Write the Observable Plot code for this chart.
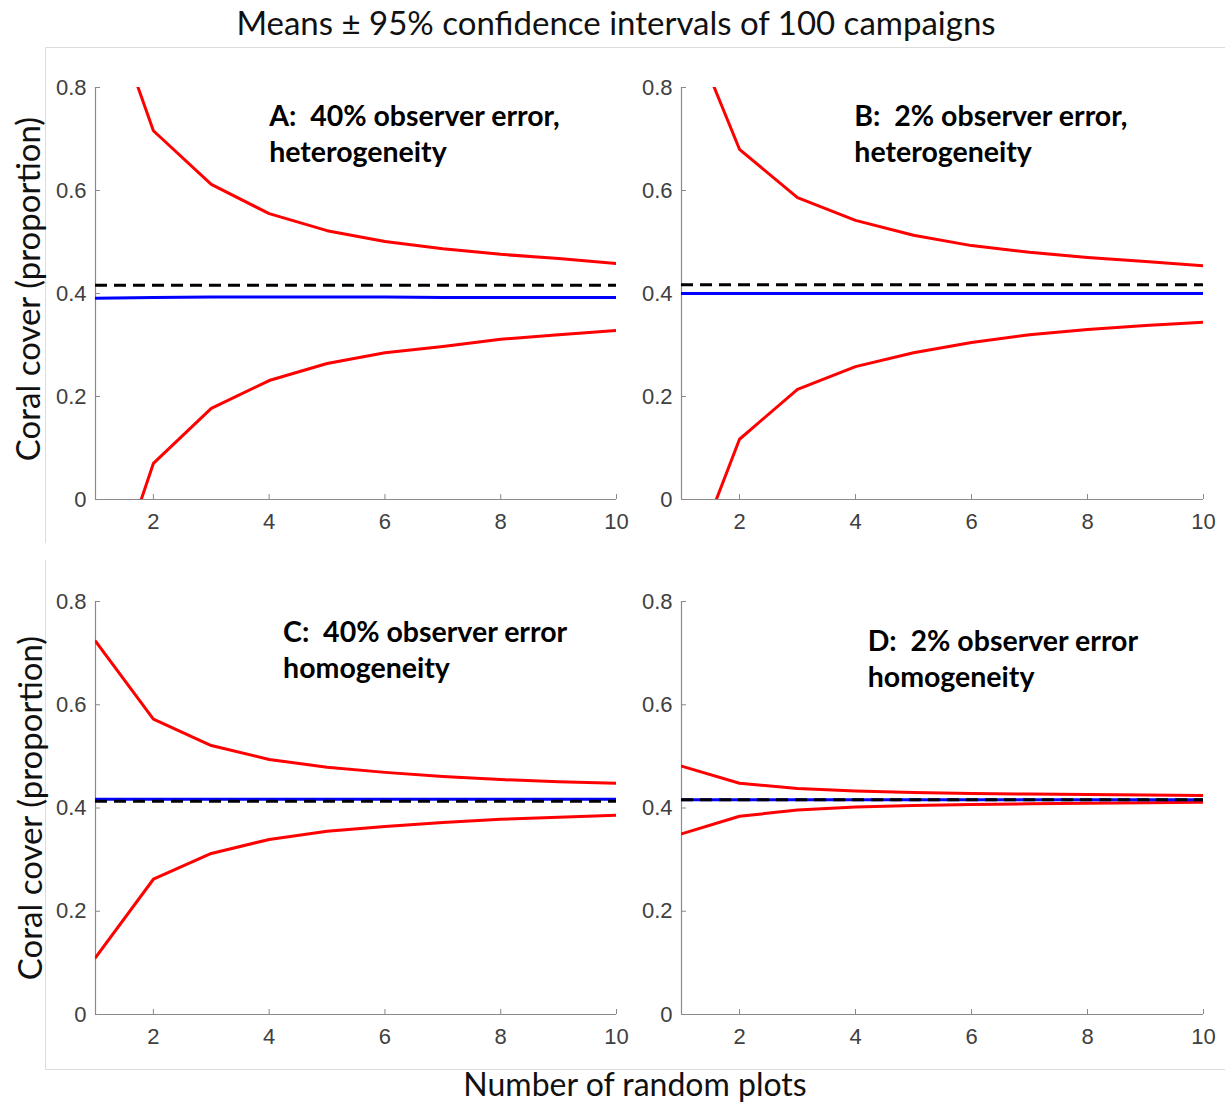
<!DOCTYPE html>
<html>
<head>
<meta charset="utf-8">
<script src="https://cdn.jsdelivr.net/npm/d3@7"></script>
<script src="https://cdn.jsdelivr.net/npm/@observablehq/plot@0.6"></script>
<style>
  html, body { margin: 0; padding: 0; background: #fff; }
  #root { position: relative; width: 1225px; height: 1103px; overflow: hidden; font-family: Lato, "Open Sans", sans-serif; }
  .abs { position: absolute; }
  .title { font-size: 33px; color: #111; white-space: nowrap; line-height: 1.1; }
  .ylab { font-size: 33px; color: #111; white-space: nowrap; transform: translate(-50%, -50%) rotate(-90deg); }
  .border { position: absolute; background: #dcdcdc; }
</style>
</head>
<body>
<div id="root"></div>
<script>
// ---- data ----
const plotsN = [1, 2, 3, 4, 5, 6, 7, 8, 9, 10];
const xTicks = [2, 4, 6, 8, 10];
const yTicks = [0, 0.2, 0.4, 0.6, 0.8];

const labelA = "A:\u00a0 40% observer error,\nheterogeneity";
const upperA = [1.034, 0.716, 0.612, 0.555, 0.522, 0.501, 0.487, 0.476, 0.468, 0.458];
const lowerA = [-0.263, 0.070, 0.177, 0.231, 0.264, 0.285, 0.297, 0.311, 0.320, 0.328];
const meanA  = [0.391, 0.392, 0.393, 0.393, 0.393, 0.393, 0.392, 0.392, 0.392, 0.392];
const trueA  = 0.416;

const labelB = "B:\u00a0 2% observer error,\nheterogeneity";
const upperB = [0.956, 0.680, 0.586, 0.542, 0.513, 0.493, 0.480, 0.470, 0.462, 0.454];
const lowerB = [-0.176, 0.117, 0.214, 0.258, 0.285, 0.305, 0.320, 0.330, 0.338, 0.344];
const meanB  = [0.400, 0.400, 0.400, 0.400, 0.400, 0.400, 0.400, 0.400, 0.400, 0.400];
const trueB  = 0.417;

const labelC = "C:\u00a0 40% observer error\nhomogeneity";
const upperC = [0.723, 0.572, 0.521, 0.494, 0.479, 0.469, 0.461, 0.455, 0.451, 0.448];
const lowerC = [0.110, 0.262, 0.312, 0.339, 0.355, 0.364, 0.372, 0.378, 0.382, 0.386];
const meanC  = [0.417, 0.417, 0.417, 0.417, 0.417, 0.417, 0.417, 0.417, 0.417, 0.417];
const trueC  = 0.413;

const labelD = "D:\u00a0 2% observer error\nhomogeneity";
const upperD = [0.481, 0.448, 0.438, 0.433, 0.430, 0.428, 0.427, 0.426, 0.425, 0.424];
const lowerD = [0.350, 0.384, 0.396, 0.402, 0.405, 0.407, 0.408, 0.409, 0.410, 0.411];
const meanD  = [0.416, 0.416, 0.416, 0.416, 0.416, 0.416, 0.416, 0.416, 0.416, 0.416];
const trueD  = 0.416;

const titleText = "Means \u00b1 95% confidence intervals of 100 campaigns";
const xLabelText = "Number of random plots";
const yLabelText = "Coral cover (proportion)";

// ---- layout ----
const root = document.getElementById("root");

function addDiv(cls, text, css) {
  const d = document.createElement("div");
  d.className = cls;
  if (text) d.textContent = text;
  Object.assign(d.style, css);
  root.appendChild(d);
  return d;
}

// faint panel borders
addDiv("border", "", {left: "45px", top: "47px", width: "1180px", height: "1px"});
addDiv("border", "", {left: "45px", top: "47px", width: "1px", height: "496px"});
addDiv("border", "", {left: "45px", top: "560px", width: "1px", height: "509px"});
addDiv("border", "", {left: "45px", top: "1069px", width: "1180px", height: "1px"});

function panel(upper, lower, mean, truth, label, labelX, labelY, left, top, mr, mb) {
  const rows = plotsN.map((n, i) => ({n, upper: upper[i], lower: lower[i], mean: mean[i]}));
  const chart = Plot.plot({
    width: 600,
    height: 500,
    marginLeft: 50,
    marginRight: mr,
    marginTop: 39,
    marginBottom: mb,
    style: {fontFamily: "'Liberation Sans', Arial, sans-serif", fontSize: "22px", color: "#404040", background: "transparent", overflow: "visible"},
    x: {domain: [1, 10]},
    y: {domain: [0, 0.8]},
    marks: [
      Plot.ruleX([1], {stroke: "#8a8a8a", strokeWidth: 1.2}),
      Plot.ruleY([0], {stroke: "#8a8a8a", strokeWidth: 1.2}),
      Plot.axisX({ticks: xTicks, tickSize: -5, tickPadding: 19, label: null, stroke: "#8a8a8a", fill: "#404040", tickFormat: d3.format("d")}),
      Plot.axisY({ticks: yTicks, tickSize: -5, tickPadding: 14, label: null, stroke: "#8a8a8a", fill: "#404040", tickFormat: d => d === 0 ? "0" : d3.format(".1f")(d)}),
      Plot.line(rows, {x: "n", y: "upper", stroke: "#ff0000", strokeWidth: 3, clip: true}),
      Plot.line(rows, {x: "n", y: "lower", stroke: "#ff0000", strokeWidth: 3, clip: true}),
      Plot.line(rows, {x: "n", y: "mean", stroke: "#0000ff", strokeWidth: 3, clip: true}),
      Plot.ruleY([truth], {stroke: "#000", strokeWidth: 3, strokeDasharray: "12,7"}),
      Plot.text([label], {x: labelX, y: labelY, text: d => d, textAnchor: "start", lineAnchor: "middle", lineHeight: 1.26,
        fontFamily: "Lato, 'Open Sans', sans-serif", fontWeight: "bold", fontSize: 28.5, fill: "#000"})
    ]
  });
  chart.style.position = "absolute";
  chart.style.left = left + "px";
  chart.style.top = top + "px";
  root.appendChild(chart);
}

panel(upperA, lowerA, meanA, trueA, labelA, 4.0, 0.713, 45, 48, 29, 49);
panel(upperB, lowerB, meanB, trueB, labelB, 3.98, 0.713, 631, 48, 28, 49);
panel(upperC, lowerC, meanC, trueC, labelC, 4.24, 0.709, 45, 562, 29, 48);
panel(upperD, lowerD, meanD, trueD, labelD, 4.21, 0.691, 631, 562, 28, 48);

// texts
addDiv("abs title", titleText, {left: "616px", top: "22px", transform: "translate(-50%, -50%)"});
addDiv("abs title", xLabelText, {left: "635px", top: "1084px", transform: "translate(-50%, -50%)", fontSize: "32px"});
addDiv("abs ylab", yLabelText, {left: "27px", top: "289px"});
addDiv("abs ylab", yLabelText, {left: "29px", top: "808px"});
</script>
</body>
</html>
